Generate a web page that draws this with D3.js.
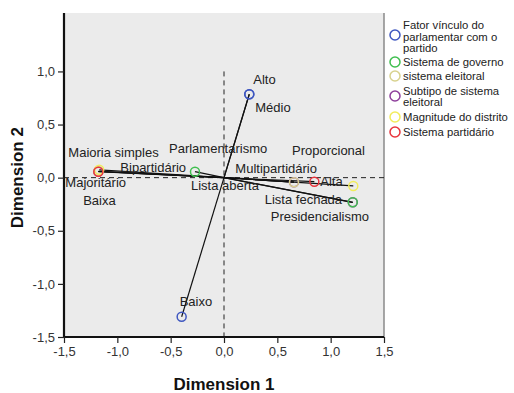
<!DOCTYPE html>
<html>
<head>
<meta charset="utf-8">
<script src="https://cdn.jsdelivr.net/npm/d3@7"></script>
<style>
  body { margin: 0; background: #fff; }
  svg text { font-family: "Liberation Sans", Arial, sans-serif; }
</style>
</head>
<body>
<div id="chart"></div>
<script>
// variables (legend order) and their colours
const groups = [
  "Fator vínculo do\nparlamentar com o\npartido",
  "Sistema de governo",
  "sistema eleitoral",
  "Subtipo de sistema\neleitoral",
  "Magnitude do distrito",
  "Sistema partidário"
];
const groupColors = ["#3f57c0", "#3fbf4f", "#d8d28e", "#8e3f9c", "#f2ec5c", "#e8343c"];

// category points
const categories = [
  "Alto", "Médio", "Baixo",
  "Parlamentarismo", "Presidencialismo",
  "Maioria simples", "Proporcional",
  "Majoritário", "Lista aberta", "Lista fechada",
  "Baixa", "Alta",
  "Bipartidário", "Multipartidário"
];
const categoryGroup = [0, 0, 0, 1, 1, 2, 2, 3, 3, 3, 4, 4, 5, 5];
const dim1 = [0.237, 0.237, -0.397, -0.272, 1.207, -1.178, 0.656, -1.178, 0.656, 1.207, -1.170, 1.212, -1.178, 0.847];
const dim2 = [0.785, 0.785, -1.309, 0.056, -0.232, 0.060, -0.043, 0.058, -0.043, -0.232, 0.074, -0.078, 0.056, -0.038];

const xTicks = [-1.5, -1.0, -0.5, 0.0, 0.5, 1.0, 1.5];
const yTicks = [-1.5, -1.0, -0.5, 0.0, 0.5, 1.0];

// label placement (pixel offsets from the point)
const labelOffset = {
  "Alto": [4, -10], "Médio": [6, 18], "Baixo": [-2, -11],
  "Parlamentarismo": [-26, -19], "Presidencialismo": [-82, 19],
  "Maioria simples": [-30, -14], "Proporcional": [-2, -27],
  "Majoritário": [-33, 16], "Lista aberta": [-103, 8], "Lista fechada": [-88, 2],
  "Baixa": [-16, 35], "Alta": [-33, 0],
  "Bipartidário": [22, 0], "Multipartidário": [-79, -9]
};
// purple drawn first so the coinciding points hide it, as in the original
const drawOrder = [3, 0, 1, 2, 4, 5];

const W = 514, H = 393;
const x = d3.scaleLinear().domain([-1.5, 1.5]).range([64, 384]);
const y = d3.scaleLinear().domain([-1.5, 1.55]).range([337, 13]);
const fmt = d => d3.format(".1f")(d).replace(".", ",").replace("−", "-");

const svg = d3.select("#chart").append("svg")
  .attr("width", W).attr("height", H);

// plot background
svg.append("rect")
  .attr("x", x(-1.5)).attr("y", y(1.55))
  .attr("width", x(1.5) - x(-1.5)).attr("height", y(-1.5) - y(1.55))
  .attr("fill", "#ebebeb");
svg.append("line")
  .attr("x1", x(1.5)).attr("x2", x(1.5)).attr("y1", y(1.55)).attr("y2", y(-1.5))
  .attr("stroke", "#8a8a8a").attr("stroke-width", 1.5);

// reference lines
svg.append("line")
  .attr("x1", x(-1.5)).attr("x2", x(1.5)).attr("y1", y(0)).attr("y2", y(0))
  .attr("stroke", "#222").attr("stroke-width", 1).attr("stroke-dasharray", "5,4");
svg.append("line")
  .attr("x1", x(0)).attr("x2", x(0)).attr("y1", y(1.0)).attr("y2", y(-1.5))
  .attr("stroke", "#222").attr("stroke-width", 1).attr("stroke-dasharray", "5,4");

// axes
const xAxis = svg.append("g").attr("transform", `translate(0,${y(-1.5)})`)
  .call(d3.axisBottom(x).tickValues(xTicks).tickFormat(fmt).tickSize(6).tickPadding(4));
const yAxis = svg.append("g").attr("transform", `translate(${x(-1.5)},0)`)
  .call(d3.axisLeft(y).tickValues(yTicks).tickFormat(fmt).tickSize(6).tickPadding(3));
[xAxis, yAxis].forEach(g => {
  g.select(".domain").attr("stroke", "#111").attr("stroke-width", 2.2);
  g.selectAll(".tick line").attr("stroke", "#222").attr("stroke-width", 1.2);
  g.selectAll(".tick text").attr("fill", "#333").style("font-size", "13px")
    .style("font-family", "'Liberation Sans', Arial, sans-serif");
});
yAxis.select(".domain").attr("d", `M0,${y(1.55)}V${y(-1.5)}`);
xAxis.select(".domain").attr("d", `M0,0H${x(1.5) - x(-1.5)}`).attr("transform", `translate(${x(-1.5)},0)`);

// axis titles
svg.append("text").attr("x", x(0)).attr("y", 390)
  .attr("text-anchor", "middle").style("font-size", "17px").style("font-weight", "bold")
  .attr("fill", "#111").text("Dimension 1");
svg.append("text").attr("transform", `translate(23,${y(0)}) rotate(-90)`)
  .attr("text-anchor", "middle").style("font-size", "17px").style("font-weight", "bold")
  .attr("fill", "#111").text("Dimension 2");

const pts = categories.map((c, i) => ({ name: c, g: categoryGroup[i], d1: dim1[i], d2: dim2[i] }));

// lines from the origin to each category point
svg.append("g").selectAll("line").data(pts).join("line")
  .attr("x1", x(0)).attr("y1", y(0))
  .attr("x2", d => x(d.d1)).attr("y2", d => y(d.d2))
  .attr("stroke", "#111").attr("stroke-width", 1.2);

// labels
svg.append("g").selectAll("text").data(pts).join("text")
  .attr("x", d => x(d.d1) + labelOffset[d.name][0])
  .attr("y", d => y(d.d2) + labelOffset[d.name][1])
  .style("font-size", "13px").attr("fill", "#222")
  .text(d => d.name);

// points
const ordered = drawOrder.flatMap(g => pts.filter(p => p.g === g));
svg.append("g").selectAll("circle").data(ordered).join("circle")
  .attr("cx", d => x(d.d1)).attr("cy", d => y(d.d2)).attr("r", 4.5)
  .attr("fill", "none").attr("stroke", d => groupColors[d.g]).attr("stroke-width", 1.5);

// legend
const legendCY = [35, 62, 76, 96, 117, 132];
const leg = svg.append("g");
groups.forEach((label, i) => {
  const lines = label.split("\n");
  leg.append("circle").attr("cx", 395).attr("cy", legendCY[i]).attr("r", 5)
    .attr("fill", "none").attr("stroke", groupColors[i]).attr("stroke-width", 1.5);
  const first = lines.length === 3 ? legendCY[i] - 6 : lines.length === 2 ? legendCY[i] - 1.5 : legendCY[i] + 4;
  const t = leg.append("text").style("font-size", "11.3px").attr("fill", "#222");
  lines.forEach((ln, k) => {
    t.append("tspan").attr("x", 403).attr("y", first + k * 11.5).text(ln);
  });
});
</script>
</body>
</html>
